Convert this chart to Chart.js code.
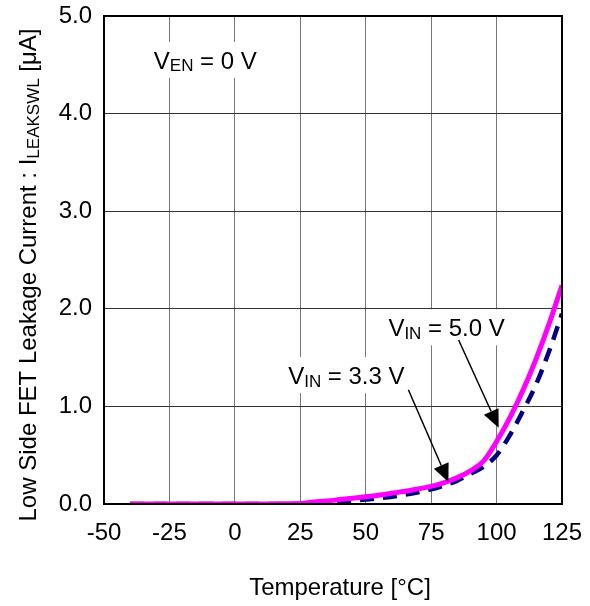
<!DOCTYPE html>
<html>
<head>
<meta charset="utf-8">
<script src="https://cdn.jsdelivr.net/npm/chart.js@4.4.0/dist/chart.umd.min.js"></script>
<style>
  html, body { margin: 0; padding: 0; background: #fff; }
  #wrap { width: 590px; height: 606px; }
</style>
</head>
<body>
<div id="wrap"><canvas id="chart" width="590" height="606"></canvas></div>
<script>
// Temperature [°C]
const temps = [-40, -35, -30, -25, -20, -15, -10, -5, 0, 5, 10, 15, 20, 25, 30, 35, 40, 45, 50, 55,
  60, 65, 70, 75, 80, 85, 90, 95, 100, 105, 110, 115, 120, 125];
// VIN = 5.0 V
const vin50 = [0, 0, 0, 0, 0, 0, 0, 0, 0, 0, 0, 0, 0.002, 0.005, 0.02, 0.03, 0.045, 0.06, 0.075, 0.09,
  0.11, 0.13, 0.155, 0.18, 0.22, 0.27, 0.34, 0.44, 0.64, 0.88, 1.16, 1.48, 1.84, 2.24];
// VIN = 3.3 V
const vin33 = [0, 0, 0, 0, 0, 0, 0, 0, 0, 0, 0, 0, 0, 0, 0.01, 0.015, 0.025, 0.035, 0.045, 0.06,
  0.075, 0.095, 0.12, 0.15, 0.19, 0.24, 0.31, 0.38, 0.5, 0.7, 0.95, 1.22, 1.56, 1.95];

const xTicks = [-50, -25, 0, 25, 50, 75, 100, 125];

const FONT = 'Arial, "Liberation Sans", Helvetica, sans-serif';
const FS = 24;

// labels & arrows (data coordinates)
const labels = [
  { parts: [['V', 0], ['EN', 1], [' = 0 V', 0]], x: -11.3, y: 4.55 },
  { parts: [['V', 0], ['IN', 1], [' = 5.0 V', 0]], x: 80.9, y: 1.81 },
  { parts: [['V', 0], ['IN', 1], [' = 3.3 V', 0]], x: 42.6, y: 1.32 }
];
const arrows = [
  { from: [85.5, 1.68], to: [100.8, 0.78] },
  { from: [66.3, 1.17], to: [81.6, 0.225] }
];

// draw text with subscripts, centered on (x, y)
const drawParts = (ctx, parts, x, y, size) => {
  const subSize = Math.round(size * 0.7);
  let w = 0;
  parts.forEach(([t, sub]) => {
    ctx.font = `${sub ? subSize : size}px ${FONT}`;
    w += ctx.measureText(t).width;
  });
  let cx = x - w / 2;
  ctx.textBaseline = 'alphabetic';
  ctx.textAlign = 'left';
  const base = y + size * 0.36;
  parts.forEach(([t, sub]) => {
    ctx.font = `${sub ? subSize : size}px ${FONT}`;
    ctx.fillText(t, cx, sub ? base + size * 0.12 : base);
    cx += ctx.measureText(t).width;
  });
  return w;
};

const extras = {
  id: 'extras',
  afterDatasetsDraw(chart) {
    const { ctx, chartArea: a, scales: { x, y } } = chart;
    ctx.save();
    // frame
    ctx.strokeStyle = '#000';
    ctx.lineWidth = 2;
    ctx.strokeRect(a.left, a.top, a.right - a.left, a.bottom - a.top);

    // labels with white boxes
    labels.forEach(l => {
      const px = x.getPixelForValue(l.x), py = y.getPixelForValue(l.y);
      ctx.fillStyle = '#000';
      const w = drawParts(ctx, l.parts, -9999, -9999, FS);
      ctx.fillStyle = '#fff';
      ctx.fillRect(px - w / 2 - 3, py - 18, w + 6, 36);
      ctx.fillStyle = '#000';
      drawParts(ctx, l.parts, px, py, FS);
    });

    // arrows
    arrows.forEach(ar => {
      const x1 = x.getPixelForValue(ar.from[0]), y1 = y.getPixelForValue(ar.from[1]);
      const x2 = x.getPixelForValue(ar.to[0]), y2 = y.getPixelForValue(ar.to[1]);
      const ang = Math.atan2(y2 - y1, x2 - x1);
      const len = 18, hw = 8;
      const bx = x2 - len * Math.cos(ang), by = y2 - len * Math.sin(ang);
      ctx.strokeStyle = '#000';
      ctx.lineWidth = 1.5;
      ctx.beginPath();
      ctx.moveTo(x1, y1);
      ctx.lineTo(bx, by);
      ctx.stroke();
      ctx.beginPath();
      ctx.moveTo(x2, y2);
      ctx.lineTo(bx + hw * Math.sin(ang), by - hw * Math.cos(ang));
      ctx.lineTo(bx - hw * Math.sin(ang), by + hw * Math.cos(ang));
      ctx.closePath();
      ctx.fillStyle = '#000';
      ctx.fill();
    });

    // axis titles
    ctx.fillStyle = '#000';
    drawParts(ctx, [['Temperature [°C]', 0]], 340, 586, FS);
    ctx.translate(27, 275);
    ctx.rotate(-Math.PI / 2);
    drawParts(ctx, [['Low Side FET Leakage Current : I', 0], ['LEAKSWL', 1], [' [μA]', 0]], 0, 0, FS);
    ctx.restore();
  }
};

new Chart(document.getElementById('chart'), {
  type: 'line',
  data: {
    labels: temps,
    datasets: [
      {
        label: 'VIN = 5.0 V',
        data: temps.map((t, i) => ({ x: t, y: vin50[i] })),
        borderColor: '#ff00ff',
        borderWidth: 5,
        pointRadius: 0,
        cubicInterpolationMode: 'monotone',
        fill: false
      },
      {
        label: 'VIN = 3.3 V',
        data: temps.map((t, i) => ({ x: t, y: vin33[i] })),
        borderColor: '#000080',
        borderWidth: 4.5,
        borderDash: [14, 9],
        pointRadius: 0,
        cubicInterpolationMode: 'monotone',
        fill: false
      }
    ]
  },
  options: {
    responsive: false,
    animation: false,
    layout: { padding: { left: 0, right: 28, top: 16, bottom: 0 } },
    plugins: { legend: { display: false }, tooltip: { enabled: false } },
    scales: {
      x: {
        type: 'linear',
        min: -50,
        max: 125,
        afterBuildTicks: (s) => { s.ticks = xTicks.map(v => ({ value: v })); },
        afterFit: (s) => { s.height = 102; s.paddingLeft = 0; s.paddingRight = 0; },
        grid: { color: '#777', lineWidth: 1, drawTicks: false },
        border: { display: false },
        ticks: { color: '#000', padding: 15, maxRotation: 0, font: { family: FONT, size: FS } }
      },
      y: {
        min: 0,
        max: 5,
        afterFit: (s) => { s.width = 104; s.paddingTop = 0; s.paddingBottom = 0; },
        grid: { color: '#333', lineWidth: 1, drawTicks: false },
        border: { display: false },
        ticks: { stepSize: 1, color: '#000', padding: 12, font: { family: FONT, size: FS },
          callback: (v) => v.toFixed(1) }
      }
    }
  },
  plugins: [extras]
});
</script>
</body>
</html>
